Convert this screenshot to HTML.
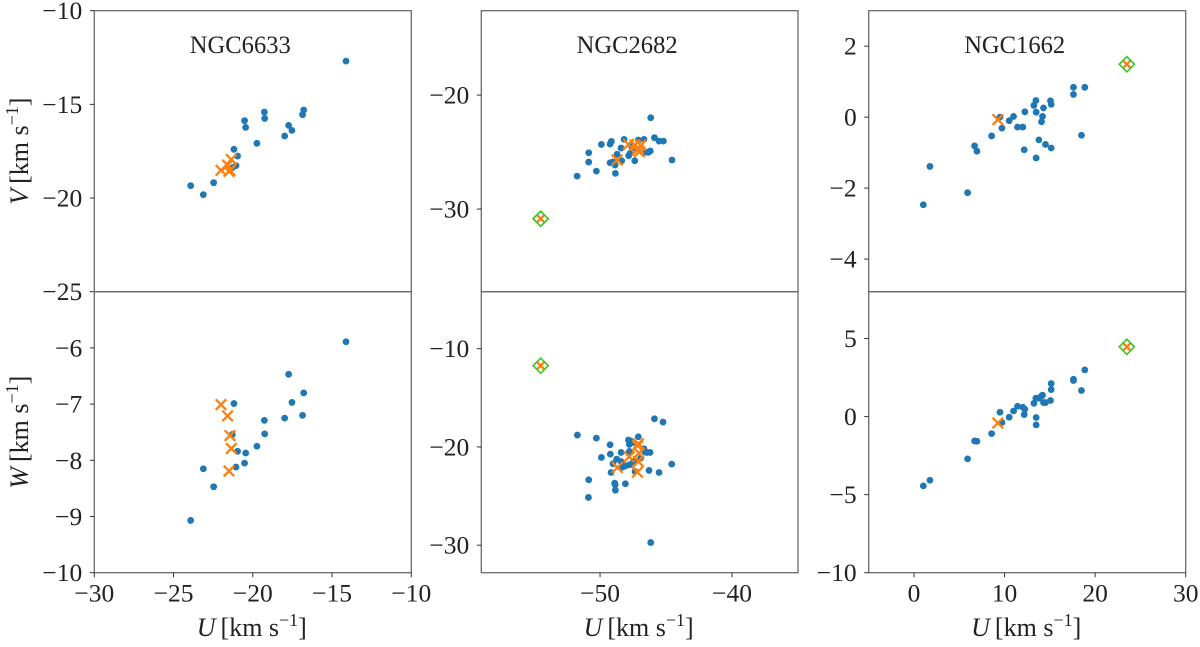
<!DOCTYPE html>
<html lang="en">
<head>
<meta charset="utf-8">
<title>UV and UW velocity scatter plots of NGC6633, NGC2682, NGC1662</title>
<style>
html,body{margin:0;padding:0;background:#fff;width:1200px;height:647px;overflow:hidden}
svg{display:block}
text{font-family:"Liberation Serif",serif;fill:#222}
</style>
</head>
<body>
<svg id="fig" xmlns="http://www.w3.org/2000/svg" width="1200" height="647" viewBox="0 0 1200 647"></svg>
<script>
// ---- NGC6633 ----
const n6633U = [-14.12,-23.92,-23.12,-22.47,-21.19,-20.96,-21.06,-21.29,-20.52,-20.45,-19.74,-19.27,-19.25,-17.99,-17.74,-17.53,-16.86,-16.79];
const n6633V = [-12.69,-19.34,-19.82,-19.18,-17.40,-17.76,-18.27,-18.38,-15.87,-16.23,-17.08,-15.41,-15.75,-16.69,-16.12,-16.39,-15.55,-15.30];
const n6633W = [-5.89,-9.07,-8.15,-8.47,-6.99,-7.84,-8.12,-7.54,-8.05,-7.87,-7.75,-7.29,-7.53,-7.25,-6.47,-6.97,-7.20,-6.80];
const n6633CrossU = [-22.01,-21.59,-21.44,-21.36,-21.50];
const n6633CrossV = [-18.52,-18.24,-18.52,-17.94,-18.58];
const n6633CrossW = [-7.01,-7.21,-7.56,-7.79,-8.19];
// ---- NGC2682 ----
const n2682UpperU = [-46.16,-45.88,-45.53,-45.20,-44.55,-51.74,-50.28,-50.86,-50.86,-49.90,-49.24,-49.14,-48.84,-48.86,-49.24,-48.71,-49.04,-48.36,-48.41,-48.18,-47.37,-47.83,-47.73,-47.10,-46.67,-46.19,-46.34,-46.52,-47.35,-47.60];
const n2682UpperV = [-21.99,-23.74,-24.04,-24.04,-25.70,-27.11,-26.67,-25.06,-25.88,-24.33,-24.30,-24.06,-26.87,-26.14,-25.94,-25.20,-25.88,-25.76,-24.65,-23.89,-25.76,-25.32,-25.12,-23.95,-23.89,-24.91,-25.03,-25.00,-24.68,-24.53];
const n2682UpperCrossU = [-48.71,-47.85,-47.35,-47.02,-47.10,-47.17,-46.92];
const n2682UpperCrossV = [-25.70,-24.33,-24.39,-24.97,-24.68,-24.82,-24.39];
const n2682LowerU = [-51.72,-50.28,-49.24,-49.22,-49.90,-49.02,-49.17,-50.86,-50.88,-48.89,-48.86,-48.84,-48.08,-46.16,-44.57,-45.53,-46.29,-45.88,-45.23,-47.10,-47.85,-47.78,-46.21,-46.46,-48.41,-47.78,-48.74,-48.41,-48.28,-47.78,-48.08,-46.67,-46.59,-47.47,-47.35,-46.92,-47.47,-47.65];
const n2682LowerW = [-18.79,-19.10,-19.78,-20.73,-21.07,-21.71,-22.60,-23.34,-25.14,-23.68,-23.85,-24.40,-23.75,-29.73,-21.75,-22.60,-22.39,-17.13,-17.47,-18.96,-19.30,-19.75,-20.56,-20.56,-20.56,-20.46,-21.24,-21.48,-22.05,-21.82,-21.92,-20.19,-20.53,-19.54,-22.50,-21.14,-21.48,-19.41];
const n2682LowerCrossU = [-48.69,-47.80,-47.10,-47.05,-47.10,-47.17,-47.15];
const n2682LowerCrossW = [-22.09,-21.00,-19.68,-20.63,-21.48,-22.56,-19.88];
const n2682OutlierU = [-54.5];
const n2682OutlierV = [-30.85];
const n2682OutlierW = [-11.73];
// ---- NGC1662 ----
const n1662U = [1.03,1.76,5.92,6.69,6.95,8.57,9.49,9.71,10.51,10.99,11.43,12.02,12.24,12.17,13.49,13.79,14.52,15.15,13.49,13.24,13.46,14.30,14.19,14.08,15.07,15.15,17.61,17.61,18.86,18.49];
const n1662V = [-2.47,-1.39,-2.13,-0.81,-0.96,-0.53,0.00,-0.31,-0.10,0.02,-0.28,-0.28,0.15,-0.92,-1.15,-0.64,-0.77,-0.87,0.14,0.33,0.47,0.26,0.02,-0.13,0.46,0.36,0.84,0.64,0.84,-0.51];
const n1662W = [-4.44,-4.08,-2.71,-1.56,-1.58,-1.09,0.28,-0.38,-0.04,0.36,0.66,0.60,0.47,0.13,-0.53,1.18,0.90,2.12,-0.06,0.85,1.18,0.90,1.37,1.32,1.03,1.73,2.39,2.31,2.99,1.67];
const n1662CrossU = [9.26];
const n1662CrossV = [-0.07];
const n1662CrossW = [-0.41];
const n1662OutlierU = [23.5];
const n1662OutlierV = [1.49];
const n1662OutlierW = [4.47];
// ---- Tick labels ----
const n6633UTicks = [-30,-25,-20,-15,-10];
const n6633VTicks = [-10,-15,-20,-25];
const n6633WTicks = [-6,-7,-8,-9,-10];
const n2682UTicks = [-50,-40];
const n2682VTicks = [-20,-30];
const n2682WTicks = [-10,-20,-30];
const n1662UTicks = [0,10,20,30];
const n1662VTicks = [2,0,-2,-4];
const n1662WTicks = [5,0,-5,-10];
const clusterNames = ["NGC6633","NGC2682","NGC1662"];

const NS = "http://www.w3.org/2000/svg";
const fig = document.getElementById("fig");

function make(parent, tag, attrs, text){
  const el = document.createElementNS(NS, tag);
  for (const k in attrs) el.setAttribute(k, attrs[k]);
  if (text !== undefined) el.textContent = text;
  parent.appendChild(el);
  return el;
}
function fmt(v){ return (v < 0 ? "\u2212" : "") + Math.abs(v); }

function drawPanel(p){
  const sx = v => p.left + (v - p.xlim[0]) / (p.xlim[1] - p.xlim[0]) * (p.right - p.left);
  const sy = v => p.top + (v - p.ylim[0]) / (p.ylim[1] - p.ylim[0]) * (p.bottom - p.top);
  const g = make(fig, "g", {});
  
  

  // points
  p.u.forEach((u, i) => {
    const dot = make(g, "circle", {cx: sx(u), cy: sy(p.y[i]), r: 3.4, fill: "#1f77b4"});
    
    
  });
  // crosses
  const crossAt = (u, y, h) => {
    const cx = sx(u), cy = sy(y);
    const c = make(g, "path", {d: `M${cx-h} ${cy-h}L${cx+h} ${cy+h}M${cx-h} ${cy+h}L${cx+h} ${cy-h}`, stroke: "#ff7f0e", "stroke-width": 2.3, fill: "none"});
    
    
  };
  p.cu.forEach((u, i) => crossAt(u, p.cy[i], 5.3));
  // outliers
  (p.ou || []).forEach((u, i) => {
    crossAt(u, p.oy[i], 4);
    const cx = sx(u), cy = sy(p.oy[i]), h = 7.6;
    const d = make(g, "polygon", {points: `${cx-h},${cy} ${cx},${cy-h} ${cx+h},${cy} ${cx},${cy+h}`, fill: "none", stroke: "#35c81f", "stroke-width": 1.6});
    
    
  });

  // frame
  const frame = make(g, "rect", {x: p.left, y: p.top, width: p.right - p.left, height: p.bottom - p.top, fill: "none", stroke: "#6a6a6a", "stroke-width": 1.3});
  
  

  // y ticks
  p.yTicks.forEach(t => {
    const y = sy(t);
    const tick = make(g, "line", {x1: p.left - 4.5, x2: p.left, y1: y, y2: y, stroke: "#333", "stroke-width": 1});
    
    
    const lab = make(g, "text", {x: p.left - 12, y: y + 8.5, "text-anchor": "end", "font-size": 25.5}, fmt(t));
    
    
  });
  // x ticks
  (p.xTicks || []).forEach(t => {
    const x = sx(t);
    const tick = make(g, "line", {x1: x, x2: x, y1: p.bottom, y2: p.bottom + 4.5, stroke: "#333", "stroke-width": 1});
    
    
    const lab = make(g, "text", {x: x, y: p.bottom + 29, "text-anchor": "middle", "font-size": 25.5}, fmt(t));
    
    
  });
  // title
  if (p.title){
    const tt = make(g, "text", {x: (p.left + p.right) / 2 - 12.5, y: 53, "text-anchor": "middle", "font-size": 25, textLength: 101, lengthAdjust: "spacingAndGlyphs"}, p.title);
    
    
  }
  // x label
  if (p.xTicks){
    unitLabel(g, "U", `translate(${(p.left + p.right) / 2 - 1},636)`, 'x-axis-title');
  }
  // y label
  if (p.yName){
    unitLabel(g, p.yName, `translate(28,${(p.top + p.bottom) / 2}) rotate(-90)`, 'y-axis-title');
  }
}

function unitLabel(parent, sym, transform, name){
  const t = make(parent, "text", {transform: transform, "text-anchor": "middle", "font-size": 26});
  
  
  make(t, "tspan", {"font-style": "italic"}, sym);
  make(t, "tspan", {dx: 5}, "[km s");
  make(t, "tspan", {dy: -10, "font-size": 18}, "\u22121");
  make(t, "tspan", {dy: 10}, "]");
}

const panels = [
  {left:94.3,right:411.3,top:10.7,bottom:291.7,xlim:[-30,-10],ylim:[-10,-25],u:n6633U,y:n6633V,cu:n6633CrossU,cy:n6633CrossV,yTicks:n6633VTicks,title:clusterNames[0],yName:"V"},
  {left:94.3,right:411.3,top:291.7,bottom:572.7,xlim:[-30,-10],ylim:[-5,-10],u:n6633U,y:n6633W,cu:n6633CrossU,cy:n6633CrossW,yTicks:n6633WTicks,xTicks:n6633UTicks,yName:"W"},
  {left:481.3,right:798,top:10.7,bottom:291.7,xlim:[-59,-35],ylim:[-12.6,-37.25],u:n2682UpperU,y:n2682UpperV,cu:n2682UpperCrossU,cy:n2682UpperCrossV,ou:n2682OutlierU,oy:n2682OutlierV,yTicks:n2682VTicks,title:clusterNames[1]},
  {left:481.3,right:798,top:291.7,bottom:572.7,xlim:[-59,-35],ylim:[-4.2,-32.8],u:n2682LowerU,y:n2682LowerW,cu:n2682LowerCrossU,cy:n2682LowerCrossW,ou:n2682OutlierU,oy:n2682OutlierW,yTicks:n2682WTicks,xTicks:n2682UTicks},
  {left:868.7,right:1185.7,top:10.7,bottom:291.7,xlim:[-5,30],ylim:[3,-4.92],u:n1662U,y:n1662V,cu:n1662CrossU,cy:n1662CrossV,ou:n1662OutlierU,oy:n1662OutlierV,yTicks:n1662VTicks,title:clusterNames[2]},
  {left:868.7,right:1185.7,top:291.7,bottom:572.7,xlim:[-5,30],ylim:[8,-10],u:n1662U,y:n1662W,cu:n1662CrossU,cy:n1662CrossW,ou:n1662OutlierU,oy:n1662OutlierW,yTicks:n1662WTicks,xTicks:n1662UTicks}
];
panels.forEach(drawPanel);
</script>
</body>
</html>
